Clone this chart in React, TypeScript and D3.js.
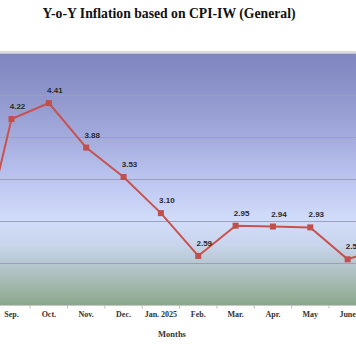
import React from "react";
import * as d3 from "d3";

const categories = ["Aug.", "Sep.", "Oct.", "Nov.", "Dec.", "Jan. 2025", "Feb.", "Mar.", "Apr.", "May", "June", "July"];
const values = [2.34, 4.22, 4.41, 3.88, 3.53, 3.10, 2.59, 2.95, 2.94, 2.93, 2.55, 2.70];
const yTicks = [2, 2.5, 3, 3.5, 4, 4.5, 5];
const title = "Y-o-Y Inflation based on CPI-IW (General)";
const xTitle = "Months";

const W = 356;
const H = 364;

export default function App() {
  const step = 37.35;
  const firstCenter = 11.5 - step; // Aug sits left of the visible area
  const x = d3
    .scaleBand<string>()
    .domain(categories)
    .range([firstCenter - step / 2, firstCenter - step / 2 + step * categories.length])
    .paddingInner(0)
    .paddingOuter(0);
  const y = d3.scaleLinear().domain([2, 5]).range([305.5, 53.5]);
  const cx = (c: string) => (x(c) as number) + x.bandwidth() / 2;

  const line = d3
    .line<number>()
    .x((_, i) => cx(categories[i]))
    .y((v) => y(v));

  const plotLeft = x.range()[0];
  const plotRight = x.range()[1];
  const plotTop = y(5);
  const plotBottom = y(2);
  // only texts that fall at least partly inside the picture are drawn
  const visible = (px: number) => px > -4 && px < W + 4;

  return (
    <svg
      width={W}
      height={H}
      style={{ position: "absolute", left: 0, top: 0, background: "#ffffff" }}
    >
      <defs>
        <linearGradient id="bg" x1="0" y1={plotTop} x2="0" y2={plotBottom} gradientUnits="userSpaceOnUse">
          <stop offset="0" stopColor="#7e85c0" />
          <stop offset="0.17" stopColor="#9097cc" />
          <stop offset="0.34" stopColor="#a5acde" />
          <stop offset="0.5" stopColor="#bcc5f0" />
          <stop offset="0.665" stopColor="#d2dcfa" />
          <stop offset="0.76" stopColor="#c8d5ec" />
          <stop offset="0.88" stopColor="#adbfbd" />
          <stop offset="1" stopColor="#8aa78b" />
        </linearGradient>
      </defs>
      <rect x={0} y={0} width={W} height={H} fill="#ffffff" />
      <text
        x={169}
        y={17.5}
        textAnchor="middle"
        fontFamily="'Liberation Serif', 'Times New Roman', serif"
        fontWeight="bold"
        fontSize={13.7}
        fill="#111"
      >
        {title}
      </text>
      <line x1={0} x2={W} y1={plotTop - 1.5} y2={plotTop - 1.5} stroke="#cfcfcf" strokeWidth={1.5} />
      <rect
        x={plotLeft}
        y={plotTop}
        width={plotRight - plotLeft}
        height={plotBottom - plotTop}
        fill="url(#bg)"
      />
      {yTicks.slice(1, -1).map((t) => (
        <line
          key={t}
          x1={plotLeft}
          x2={plotRight}
          y1={y(t)}
          y2={y(t)}
          stroke="#9a9fba"
          strokeWidth={1}
        />
      ))}
      <line x1={plotLeft} x2={plotRight} y1={plotBottom} y2={plotBottom} stroke="#c8c8c8" strokeWidth={1} />
      {categories.map((c) => (
        <line
          key={"t" + c}
          x1={(x(c) as number) + step}
          x2={(x(c) as number) + step}
          y1={plotBottom}
          y2={plotBottom + 3}
          stroke="#bdbdbd"
          strokeWidth={1}
        />
      ))}
      {categories.filter((c) => visible(cx(c))).map((c) => (
        <text
          key={"l" + c}
          x={cx(c)}
          y={317}
          textAnchor="middle"
          fontFamily="'Liberation Serif', 'Times New Roman', serif"
          fontWeight="bold"
          fontSize={8}
          fill="#333"
        >
          {c}
        </text>
      ))}
      <text
        x={172}
        y={336.5}
        textAnchor="middle"
        fontFamily="'Liberation Serif', 'Times New Roman', serif"
        fontWeight="bold"
        fontSize={8.5}
        fill="#333"
      >
        {xTitle}
      </text>
      <path d={line(values) || ""} fill="none" stroke="#c8524d" strokeWidth={2} />
      {values.map((v, i) => (
        <rect
          key={"m" + i}
          x={cx(categories[i]) - 3}
          y={y(v) - 3}
          width={6}
          height={6}
          fill="#c0504d"
        />
      ))}
      {values.map((v, i) =>
        visible(cx(categories[i]) + 6) ? (
          <text
            key={"v" + i}
            x={cx(categories[i]) + 6}
            y={y(v) - 10}
            textAnchor="middle"
            fontFamily="'Liberation Sans', Arial, sans-serif"
            fontWeight="bold"
            fontSize={8}
            fill="#2a2a2a"
          >
            {v.toFixed(2)}
          </text>
        ) : null
      )}
    </svg>
  );
}
